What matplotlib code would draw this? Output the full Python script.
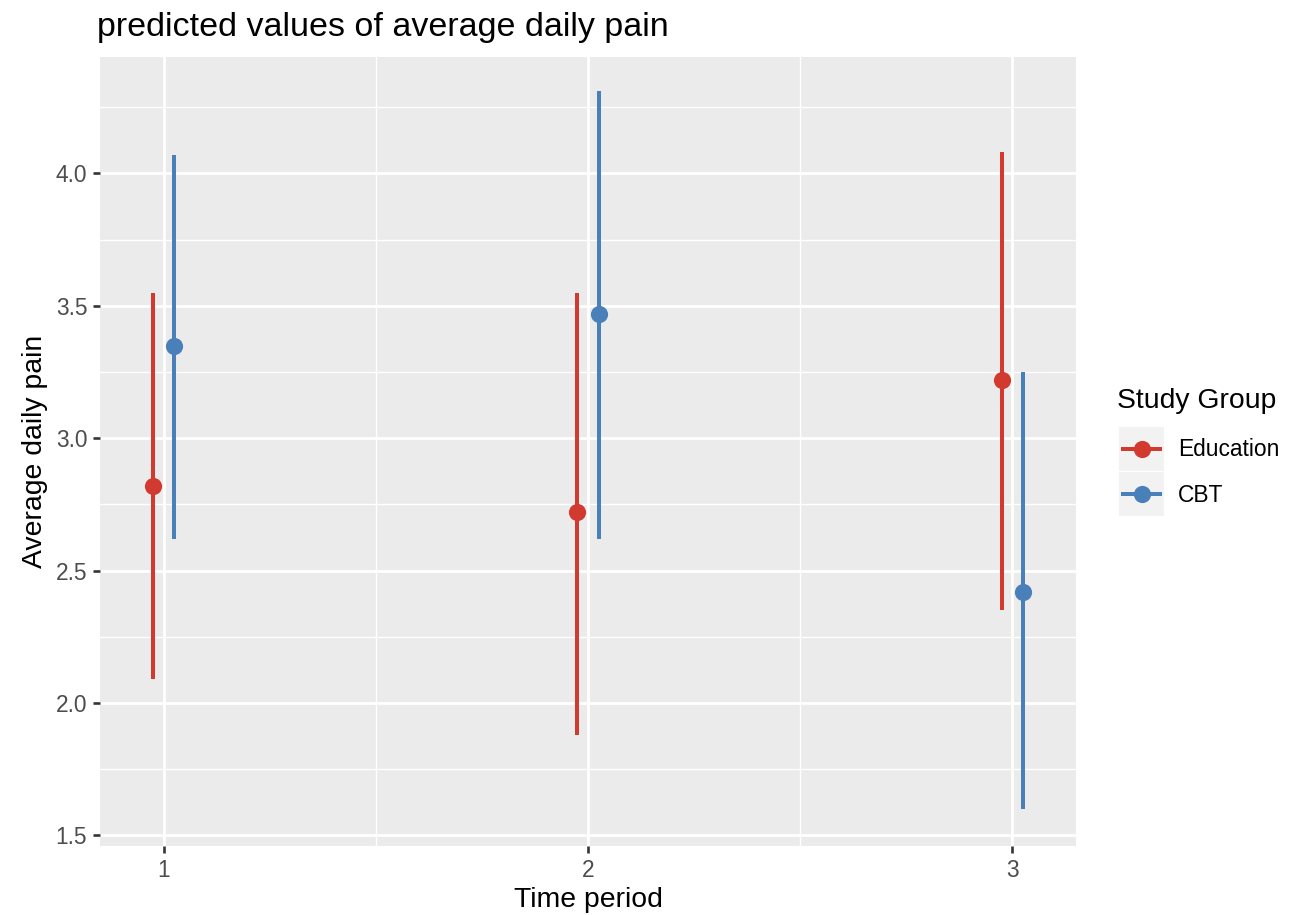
import matplotlib
matplotlib.use("Agg")
import matplotlib.pyplot as plt
from matplotlib.lines import Line2D
from matplotlib.patches import Rectangle

plt.rcParams['font.family'] = ['Liberation Sans', 'DejaVu Sans']

# Data
time_periods = [1, 2, 3]
tick_labels = ["1", "2", "3"]
groups = ["Education", "CBT"]
edu_est = [2.82, 2.72, 3.22]
edu_lo = [2.09, 1.88, 2.35]
edu_hi = [3.55, 3.55, 4.08]
cbt_est = [3.35, 3.47, 2.42]
cbt_lo = [2.62, 2.62, 1.60]
cbt_hi = [4.07, 4.31, 3.25]

colors = {"Education": "#D33A2F", "CBT": "#4A80BA"}
dodge = 0.025
k = 1.29  # font scale

W, H, DPI = 1306, 915, 144
fig = plt.figure(figsize=(W / DPI, H / DPI), dpi=DPI)
fig.patch.set_facecolor("white")

left, right, top, bottom = 100, 1076, 57, 846
ax = fig.add_axes([left / W, 1 - bottom / H, (right - left) / W, (bottom - top) / H])
ax.set_facecolor("#EBEBEB")
for s in ax.spines.values():
    s.set_visible(False)

series = [
    ("Education", edu_est, edu_lo, edu_hi, -dodge),
    ("CBT", cbt_est, cbt_lo, cbt_hi, dodge),
]
for name, est, lo, hi, off in series:
    xs = [t + off for t in time_periods]
    ax.vlines(xs, lo, hi, color=colors[name], lw=2.0, zorder=3)
    ax.plot(xs, est, "o", color=colors[name], markersize=8.6, zorder=4, mec="none")

ax.set_xlim(0.85, 3.15)
ax.set_ylim(1.46, 4.44)
ax.set_xticks(time_periods)
ax.set_xticklabels(tick_labels)
ax.set_yticks([1.5, 2.0, 2.5, 3.0, 3.5, 4.0])
ax.set_yticklabels(["1.5", "2.0", "2.5", "3.0", "3.5", "4.0"])
ax.set_xticks([1.5, 2.5], minor=True)
ax.set_yticks([1.75, 2.25, 2.75, 3.25, 3.75, 4.25], minor=True)
ax.grid(True, which="major", color="white", lw=1.4, zorder=0)
ax.grid(True, which="minor", color="white", lw=0.7, zorder=0)
ax.set_axisbelow(True)
ax.tick_params(which="major", length=2.75 * k, width=1.3, color="#333333",
               labelsize=8.8 * k, labelcolor="#4D4D4D", pad=2.2 * k)
ax.tick_params(which="minor", length=0)

ax.set_xlabel("Time period", fontsize=11 * k, color="black", labelpad=2.5)
ax.set_ylabel("Average daily pain", fontsize=11 * k, color="black", labelpad=4)

fig.text(97 / W, 1 - 36 / H, "predicted values of average daily pain",
         fontsize=13.2 * k, color="black", ha="left", va="baseline")

# Legend (ggplot style)
fig.text(1117 / W, 1 - 401 / H, "Study Group", fontsize=11 * k, ha="left", va="center")
key_x0, key_x1 = 1119, 1164
key_tops = [427, 472]
key_h = 44
text_ys = [450, 495]
for i, name in enumerate(groups):
    y0 = key_tops[i]
    fig.patches.append(Rectangle((key_x0 / W, 1 - (y0 + key_h) / H),
                                 (key_x1 - key_x0) / W, key_h / H,
                                 transform=fig.transFigure, facecolor="#F2F2F2",
                                 edgecolor="none", zorder=1))
    yc = 1 - (y0 + key_h / 2) / H
    fig.lines.append(Line2D([(key_x0 + 4) / W, (key_x1 - 4) / W], [yc, yc],
                            transform=fig.transFigure, color=colors[name], lw=2.0, zorder=2))
    fig.lines.append(Line2D([(key_x0 + key_x1) / 2 / W], [yc], marker="o",
                            markersize=8.6, mec="none",
                            transform=fig.transFigure, color=colors[name], zorder=3))
    fig.text(1178 / W, 1 - text_ys[i] / H, name, fontsize=8.8 * k, ha="left", va="center")

fig.savefig("out.png", dpi=DPI)
